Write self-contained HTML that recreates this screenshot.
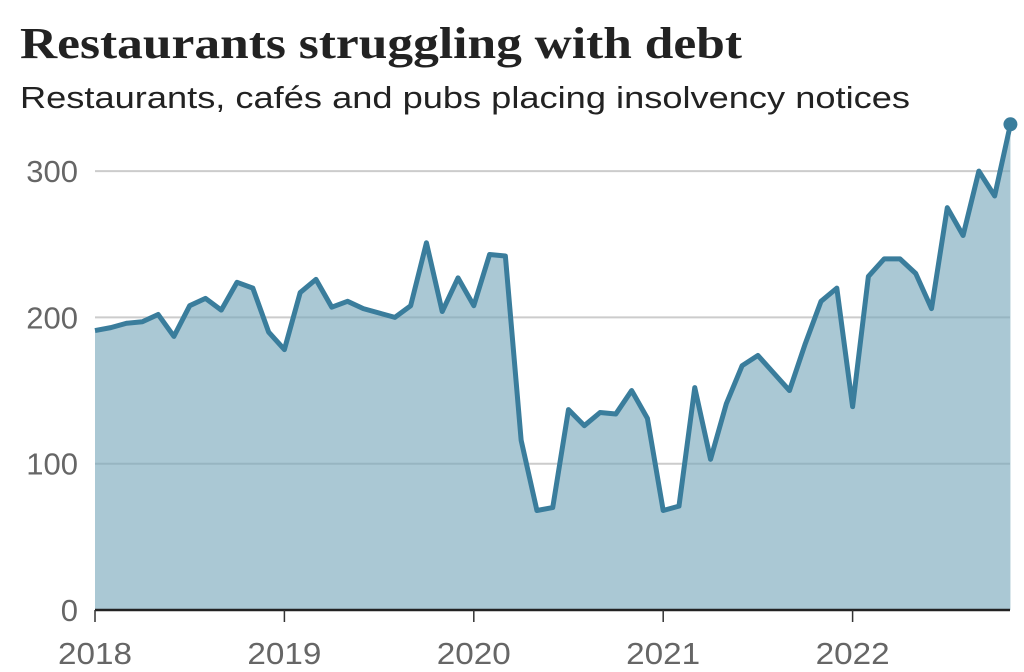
<!DOCTYPE html>
<html><head><meta charset="utf-8"><style>
html,body{margin:0;padding:0;background:#fff;width:1024px;height:672px;overflow:hidden}
</style></head><body>
<svg id="chart" width="1024" height="672" xmlns="http://www.w3.org/2000/svg">
<text x="20" y="58" font-family="Liberation Serif, serif" font-weight="bold" font-size="44" fill="#222" textLength="722" lengthAdjust="spacingAndGlyphs">Restaurants struggling with debt</text>
<text x="20" y="108" font-family="Liberation Sans, sans-serif" font-size="31" fill="#222" textLength="890" lengthAdjust="spacingAndGlyphs">Restaurants, cafés and pubs placing insolvency notices</text>
<g id="grid"></g><g id="area"></g><g id="axes"></g>
</svg>
<script>
const yTicks=[0,100,200,300];
const xYears=["2018","2019","2020","2021","2022"];
const values=[191,193,196,197,202,187,208,213,205,224,220,190,
178,217,226,207,211,206,203,200,208,251,204,227,
208,243,242,116,68,70,137,126,135,134,150,131,
68,71,152,103,141,167,174,162,150,182,211,220,
139,228,240,240,230,206,275,256,300,283,332];
const NS="http://www.w3.org/2000/svg";
const x0=95,yearW=189.4,y0=610,pxPer=1.463;
const xs=i=>x0+i*yearW/12;
const ys=v=>y0-v*pxPer;
function mk(t,a,p){const e=document.createElementNS(NS,t);for(const k in a)e.setAttribute(k,a[k]);p.appendChild(e);return e;}
const grid=document.getElementById('grid'),area=document.getElementById('area'),axes=document.getElementById('axes');
yTicks.forEach(v=>{
  if(v>0){const l=mk('line',{x1:x0,x2:1010,y1:ys(v),y2:ys(v),stroke:'#ccc','stroke-width':2},grid);
  
  }
  const t=mk('text',{x:78,y:ys(v)+11,'text-anchor':'end','font-family':'Liberation Sans, sans-serif','font-size':31,fill:'#666'},axes);
  t.textContent=v;
  
  
});
const last=values.length-1;
let d='M'+xs(0)+','+y0;
values.forEach((v,i)=>d+=' L'+xs(i)+','+ys(v));
d+=' L'+xs(last)+','+y0+' Z';
const fill=mk('path',{d:d,fill:'rgba(118,166,186,0.62)'},area);


const ln=mk('path',{d:'M'+values.map((v,i)=>xs(i)+','+ys(v)).join(' L'),fill:'none',stroke:'#3a7d9c','stroke-width':5,'stroke-linejoin':'round'},area);


const dot=mk('circle',{cx:xs(last),cy:ys(values[last]),r:7,fill:'#3a7d9c'},area);


const base=mk('line',{x1:x0,x2:1010,y1:y0,y2:y0,stroke:'#222','stroke-width':2.5},axes);


xYears.forEach((y,i)=>{
  const x=xs(i*12);
  const tk=mk('line',{x1:x,x2:x,y1:y0,y2:622,stroke:'#333','stroke-width':1.5},axes);
  
  
  const t=mk('text',{x:x,y:664,'text-anchor':'middle','font-family':'Liberation Sans, sans-serif','font-size':31,fill:'#666',textLength:74,lengthAdjust:'spacingAndGlyphs'},axes);
  t.textContent=y;
  
  
});
</script>
</body></html>
